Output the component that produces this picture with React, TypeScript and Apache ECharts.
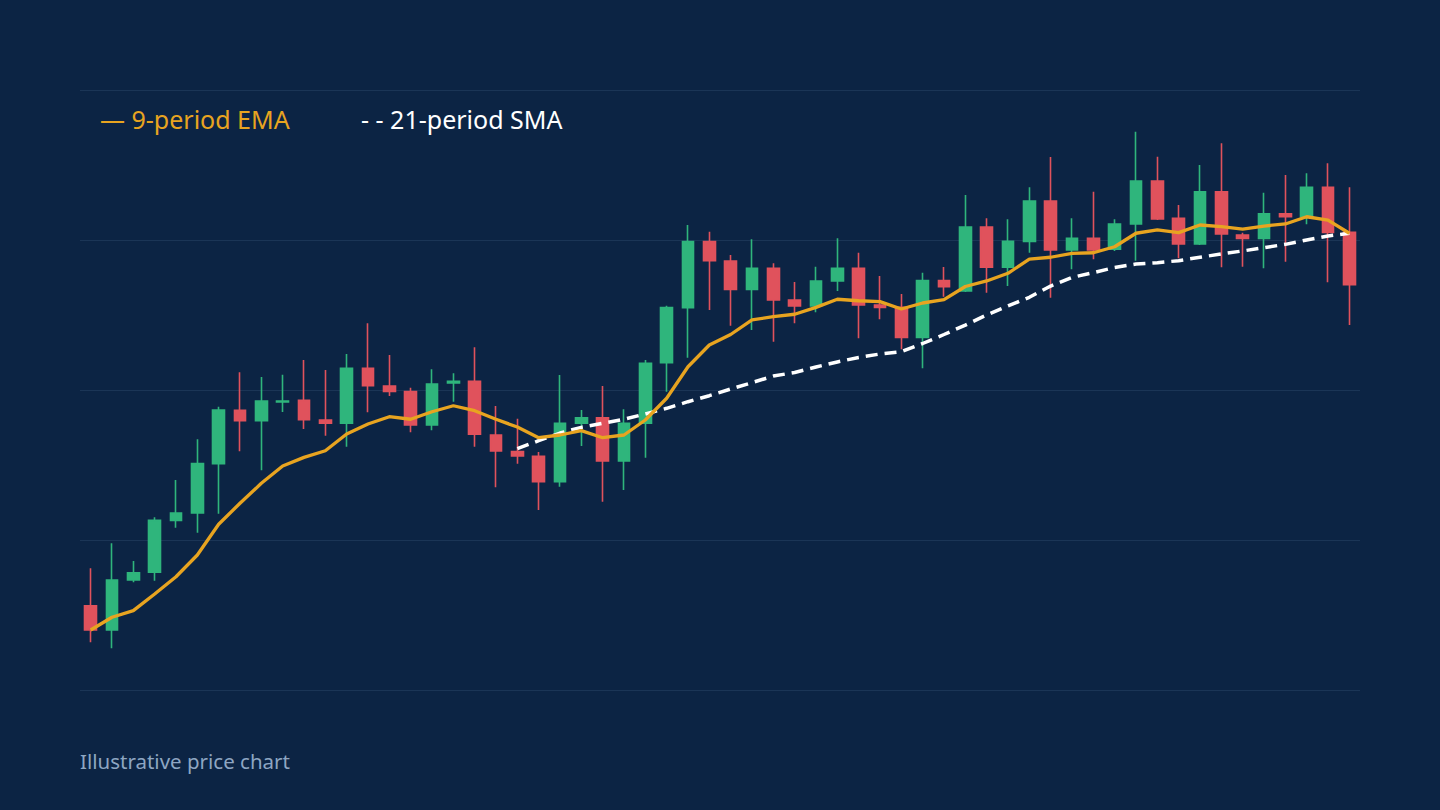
import React, { useEffect, useRef } from "react";
import * as echarts from "echarts";

// [open, close, low, high]
const opens = [105.62,104.00,107.33,107.85,111.31,111.80,115.09,118.65,117.95,119.20,119.31,118.00,117.78,121.45,120.27,119.89,117.67,120.47,120.58,117.00,115.89,115.58,113.89,117.78,118.15,115.27,117.78,121.82,125.49,129.89,128.60,126.71,128.11,126.00,125.60,127.27,128.11,125.67,125.51,123.51,127.29,126.60,130.87,128.18,129.91,132.60,129.33,130.11,129.38,131.07,133.93,131.45,129.73,133.22,130.33,130.11,131.75,131.55,133.51,130.51];
const closes = [104.00,107.33,107.82,111.31,111.80,115.09,118.67,117.95,119.27,119.27,118.02,117.78,121.45,120.29,119.91,117.67,120.40,120.58,117.05,115.93,115.60,113.89,117.78,118.15,115.27,117.78,121.78,125.49,129.89,128.62,126.71,128.11,126.00,125.60,127.27,128.11,125.67,125.51,123.51,127.29,126.89,130.87,128.18,129.91,132.60,129.33,130.11,129.33,131.07,133.93,131.40,129.73,133.22,130.40,130.11,131.75,131.55,133.51,130.51,127.02];
const lows = [103.18,102.78,107.18,107.29,110.82,110.49,111.75,115.91,114.65,118.53,117.40,116.95,116.22,118.51,119.60,117.18,117.31,119.22,116.22,113.51,115.09,112.00,113.55,116.27,112.55,113.33,115.49,119.89,122.15,125.33,124.29,124.00,123.22,124.45,125.18,126.60,123.45,124.71,122.71,121.45,126.22,126.53,126.49,126.93,129.15,126.15,128.05,128.71,129.27,128.62,131.33,128.78,129.67,128.18,128.22,128.11,128.55,131.05,127.18,124.33];
const highs = [108.11,109.78,108.60,111.51,114.00,116.71,118.89,121.18,120.87,121.02,122.00,121.33,122.40,124.45,122.33,120.15,121.38,121.11,122.85,118.93,118.09,115.87,121.00,118.67,120.27,118.71,122.00,125.62,131.00,130.55,129.00,130.05,128.45,127.20,128.22,130.11,129.15,127.60,126.40,127.82,128.20,133.00,131.45,131.38,133.51,135.53,131.45,133.22,131.38,137.22,135.55,132.33,135.00,136.45,130.49,133.15,134.33,134.45,135.11,133.51];

const ema9 = [104.00,104.85,105.29,106.40,107.55,109.00,111.05,112.45,113.78,114.93,115.51,115.95,117.07,117.73,118.22,118.05,118.55,118.95,118.62,118.05,117.53,116.82,117.00,117.29,116.82,117.00,118.00,119.45,121.55,123.00,123.70,124.67,124.89,125.05,125.51,126.05,125.95,125.89,125.40,125.80,126.02,126.90,127.27,127.78,128.73,128.85,129.11,129.15,129.55,130.45,130.67,130.49,131.00,130.89,130.73,130.93,131.07,131.55,131.33,130.45];

const sma21 = [null,null,null,null,null,null,null,null,null,null,null,null,null,null,null,null,null,null,null,null,116.09,116.62,117.13,117.51,117.78,118.05,118.40,118.78,119.22,119.62,120.07,120.49,120.93,121.17,121.53,121.87,122.17,122.40,122.55,123.10,123.70,124.33,125.00,125.60,126.18,126.93,127.51,127.82,128.17,128.40,128.49,128.62,128.85,129.07,129.27,129.49,129.71,130.00,130.27,130.45];

const periods = opens.map((_, i) => String(i + 1));

const BG = "#0c2444";
const UP = "#2fb57c";
const DOWN = "#e0525c";
const ORANGE = "#e8a420";
const FONT = "'Noto Sans', 'Open Sans', sans-serif";

export default function App() {
  const ref = useRef<HTMLDivElement>(null);
  useEffect(() => {
    document.body.style.margin = "0";
    document.body.style.background = BG;
    const chart = echarts.init(ref.current!, null, { renderer: "svg" });
    const candleData = opens.map((o, i) => [o, closes[i], lows[i], highs[i]]);
    chart.setOption({
      animation: false,
      backgroundColor: BG,
      grid: { left: 80, right: 80, top: 90, bottom: 120 },
      xAxis: {
        type: "category",
        data: periods,
        boundaryGap: true,
        axisLine: { show: false },
        axisTick: { show: false },
        axisLabel: { show: false },
        splitLine: { show: false },
      },
      yAxis: {
        type: "value",
        min: 100,
        max: 140,
        interval: 10,
        axisLine: { show: false },
        axisTick: { show: false },
        axisLabel: { show: false },
        splitLine: { show: true, lineStyle: { color: "#1b3556", width: 1 } },
      },
      series: [
        {
          type: "candlestick",
          data: candleData,
          barWidth: 12,
          itemStyle: {
            color: UP,
            color0: DOWN,
            borderColor: UP,
            borderColor0: DOWN,
            borderWidth: 1.6,
          },
          z: 2,
        },
        {
          type: "line",
          data: sma21,
          showSymbol: false,
          symbol: "none",
          lineStyle: { color: "#ffffff", width: 3.5, type: [12, 7] },
          z: 3,
        },
        {
          type: "line",
          data: ema9,
          showSymbol: false,
          symbol: "none",
          lineStyle: { color: ORANGE, width: 3.3 },
          z: 4,
        },
      ],
      graphic: [
        {
          type: "text",
          left: 100,
          top: 106,
          style: { text: "— 9-period EMA", fill: ORANGE, font: `25px ${FONT}` },
        },
        {
          type: "text",
          left: 361,
          top: 106,
          style: { text: "- - 21-period SMA", fill: "#ffffff", font: `25px ${FONT}` },
        },
        {
          type: "text",
          left: 80,
          top: 750,
          style: { text: "Illustrative price chart", fill: "#8ea6c2", font: `20.5px ${FONT}` },
        },
      ],
    });
    return () => chart.dispose();
  }, []);
  return <div ref={ref} style={{ width: 1440, height: 810, background: BG }} />;
}
